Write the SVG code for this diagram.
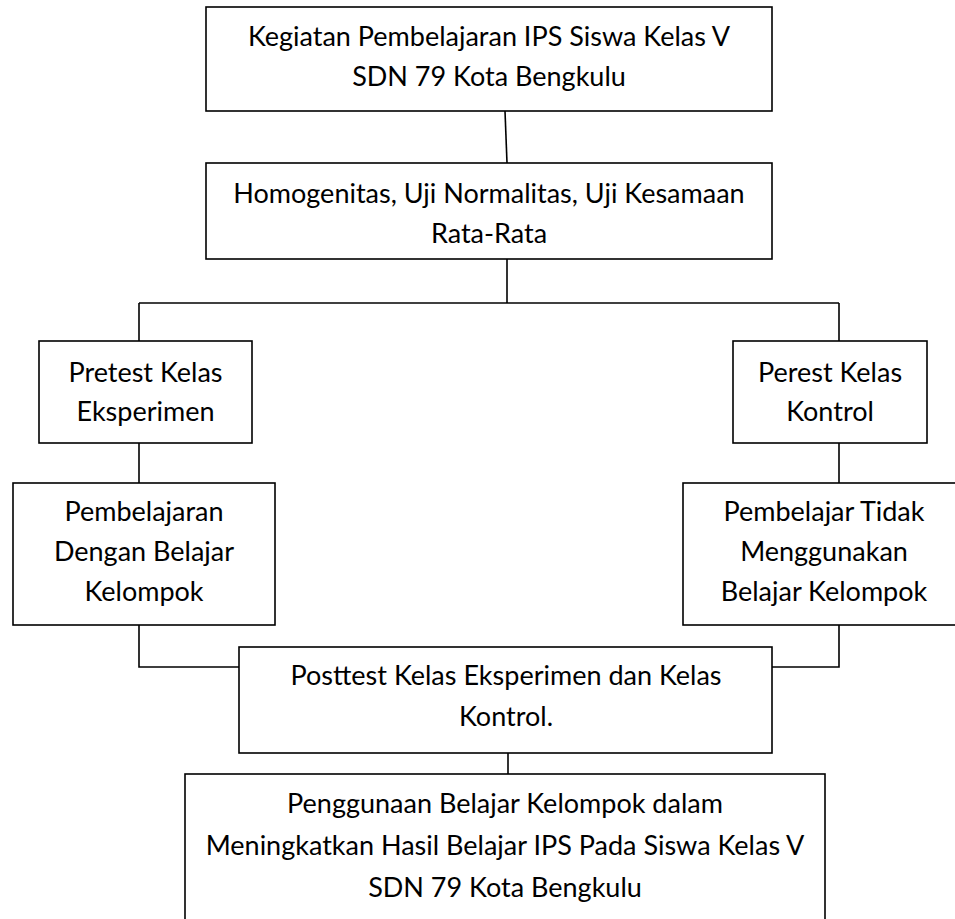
<svg xmlns="http://www.w3.org/2000/svg" width="955" height="919" viewBox="0 0 955 919">
<style>
.box{fill:#fff;stroke:#000;stroke-width:1.6}
.ln{fill:none;stroke:#000;stroke-width:1.6}
text{font-family:Lato,"Open Sans","Liberation Sans",sans-serif;font-size:27px;fill:#000;text-anchor:middle}
</style>
<rect width="955" height="919" fill="#fff"/>
<g id="connectors">
<line class="ln" x1="505" y1="111" x2="507" y2="163"/>
<line class="ln" x1="507" y1="259" x2="507" y2="303"/>
<line class="ln" x1="139" y1="303" x2="839" y2="303"/>
<line class="ln" x1="139" y1="303" x2="139" y2="341"/>
<line class="ln" x1="839" y1="303" x2="839" y2="341"/>
<line class="ln" x1="139" y1="443" x2="139" y2="483"/>
<line class="ln" x1="839" y1="443" x2="839" y2="483"/>
<polyline class="ln" points="139,625 139,667 239,667"/>
<polyline class="ln" points="839,625 839,667 772,667"/>
<line class="ln" x1="508" y1="753" x2="508" y2="774"/>
</g>
<g id="n1">
<rect class="box" x="206" y="7" width="566" height="104"/>
<text x="489" y="46">Kegiatan Pembelajaran IPS Siswa Kelas V</text>
<text x="489" y="86">SDN 79 Kota Bengkulu</text>
</g>
<g id="n2">
<rect class="box" x="206" y="163" width="566" height="96"/>
<text x="489" y="203">Homogenitas, Uji Normalitas, Uji Kesamaan</text>
<text x="489" y="243">Rata-Rata</text>
</g>
<g id="n3">
<rect class="box" x="39" y="341" width="213" height="102"/>
<text x="145.5" y="382">Pretest Kelas</text>
<text x="145.5" y="421">Eksperimen</text>
</g>
<g id="n4">
<rect class="box" x="733" y="341" width="194" height="102"/>
<text x="830" y="382">Perest Kelas</text>
<text x="830" y="421">Kontrol</text>
</g>
<g id="n5">
<rect class="box" x="13" y="483" width="262" height="142"/>
<text x="144" y="521">Pembelajaran</text>
<text x="144" y="561">Dengan Belajar</text>
<text x="144" y="601">Kelompok</text>
</g>
<g id="n6">
<rect class="box" x="683" y="483" width="290" height="142"/>
<text x="824" y="521">Pembelajar Tidak</text>
<text x="824" y="561">Menggunakan</text>
<text x="824" y="601">Belajar Kelompok</text>
</g>
<g id="n7">
<rect class="box" x="239" y="647" width="533" height="106"/>
<text x="506" y="685">Posttest Kelas Eksperimen dan Kelas</text>
<text x="506" y="726">Kontrol.</text>
</g>
<g id="n8">
<rect class="box" x="185" y="774" width="640" height="170"/>
<text x="505" y="813">Penggunaan Belajar Kelompok dalam</text>
<text x="505" y="855">Meningkatkan Hasil Belajar IPS Pada Siswa Kelas V</text>
<text x="505" y="897">SDN 79 Kota Bengkulu</text>
</g>
</svg>
